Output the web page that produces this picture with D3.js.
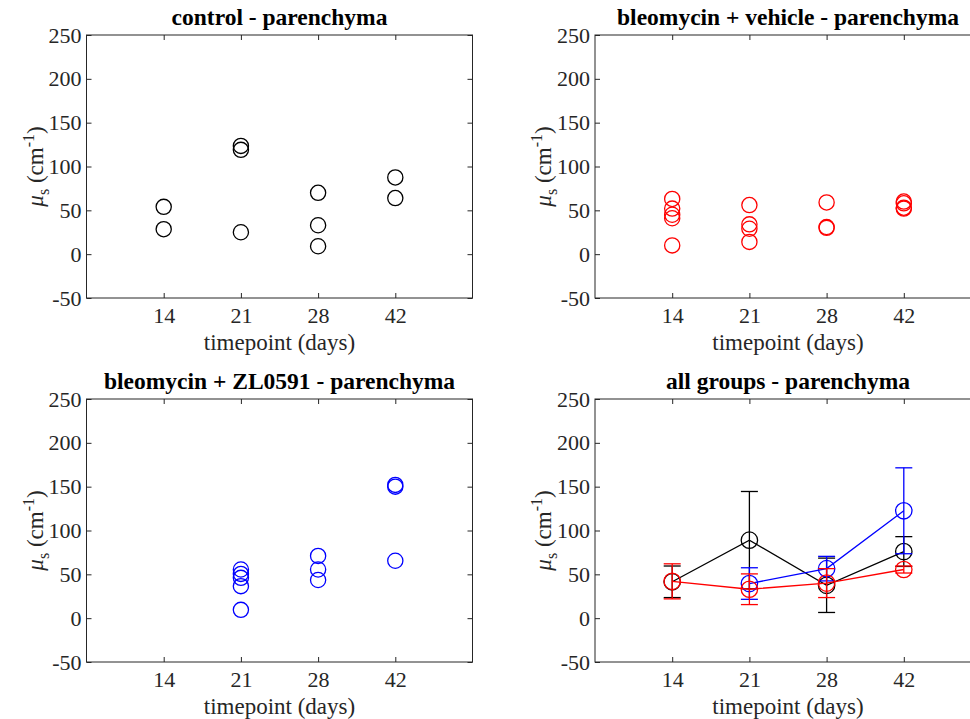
<!DOCTYPE html>
<html>
<head>
<meta charset="utf-8">
<script src="https://cdn.jsdelivr.net/npm/d3@7"></script>
<style>
  html, body { margin: 0; padding: 0; background: #fff; }
  svg { display: block; font-family: "Liberation Serif", "Times New Roman", serif; }
</style>
</head>
<body>
<svg id="chart" width="970" height="719"></svg>
<script>
// Timepoints (days) on the x axis and y tick values
const timepoints = ["14", "21", "28", "42"];
const yTicks = [-50, 0, 50, 100, 150, 200, 250];

// Individual measurements: control group
const controlDays = ["14", "14", "21", "21", "21", "28", "28", "28", "42", "42"];
const controlVals = [54, 28.5, 123.5, 119, 25, 70, 33, 9, 87.5, 64];

// Individual measurements: bleomycin + vehicle
const vehicleDays = ["14", "14", "14", "14", "14", "21", "21", "21", "21", "28", "28", "28", "42", "42", "42", "42"];
const vehicleVals = [63, 52, 45, 41, 10, 56, 34, 29, 14, 59, 31, 30, 60, 58, 52, 53];

// Individual measurements: bleomycin + ZL0591
const zlDays = ["21", "21", "21", "21", "21", "28", "28", "28", "42", "42", "42"];
const zlVals = [55.5, 50.5, 46, 36.5, 9.5, 71, 55.5, 43.5, 152, 150, 65.5];

// Group mean and standard deviation per timepoint (null = no data)
const controlMean = [41.5, 89, 37.5, 76];
const controlSd = [18, 55.5, 31, 17];
const vehicleMean = [42, 33, 40, 55.5];
const vehicleSd = [20, 17.5, 16.5, 4];
const zlMean = [null, 39.5, 56.5, 122.5];
const zlSd = [null, 18, 14, 49];

const svg = d3.select("#chart");
const axisColor = "#262626";
const W = 386, H = 263;
const colLeft = [86.5, 595];
const rowTop = [35, 399];
const R = 7.6;

function makePanel(col, row, title) {
  const left = colLeft[col], top = rowTop[row];
  const x = d3.scalePoint().domain(timepoints).range([left, left + W]).padding(1);
  const y = d3.scaleLinear().domain([-50, 250]).range([top + H, top]);
  const g = svg.append("g");

  // Box
  g.append("rect").attr("x", left).attr("y", top).attr("width", W).attr("height", H)
    .attr("fill", "none").attr("stroke", axisColor).attr("stroke-width", 1);

  // Axes with inward ticks on all four sides
  const axes = [
    [d3.axisBottom(x).tickSizeInner(-5).tickSizeOuter(0).tickPadding(9), `translate(0,${top + H})`],
    [d3.axisTop(x).tickSizeInner(-5).tickSizeOuter(0).tickFormat(""), `translate(0,${top})`],
    [d3.axisLeft(y).tickValues(yTicks).tickSizeInner(-5).tickSizeOuter(0).tickPadding(5).tickFormat(d => String(d)), `translate(${left},0)`],
    [d3.axisRight(y).tickValues(yTicks).tickSizeInner(-5).tickSizeOuter(0).tickFormat(""), `translate(${left + W},0)`]
  ];
  axes.forEach(([ax, tr]) => {
    const a = g.append("g").attr("transform", tr).call(ax);
    a.select(".domain").remove();
    a.selectAll("line").attr("stroke", axisColor);
    a.selectAll("text").attr("fill", axisColor).style("font-family", "Liberation Serif")
      .style("font-size", "22px");
  });

  // Title
  g.append("text").attr("x", left + W / 2).attr("y", top - 10).attr("text-anchor", "middle")
    .style("font-size", "23.5px").style("font-weight", "bold").attr("fill", "#000").text(title);

  // X label
  g.append("text").attr("x", left + W / 2).attr("y", top + H + 52).attr("text-anchor", "middle")
    .style("font-size", "23px").attr("fill", axisColor).text("timepoint (days)");

  // Y label
  const yl = g.append("text")
    .attr("transform", `translate(${left - 44},${top + H / 2}) rotate(-90)`)
    .attr("text-anchor", "middle").style("font-size", "23px").attr("fill", axisColor);
  yl.append("tspan").style("font-style", "italic").text("\u03bc");
  yl.append("tspan").attr("dy", 6).style("font-size", "16px").text("s");
  yl.append("tspan").attr("dy", -6).text(" (cm");
  yl.append("tspan").attr("dy", -9).style("font-size", "16px").text("-1");
  yl.append("tspan").attr("dy", 9).text(")");

  return { g, x, y };
}

function scatter(panel, days, vals, color) {
  panel.g.append("g").selectAll("circle").data(vals).join("circle")
    .attr("cx", (d, i) => panel.x(days[i]))
    .attr("cy", d => panel.y(d))
    .attr("r", R).attr("fill", "none").attr("stroke", color).attr("stroke-width", 1.3);
}

function summary(panel, mean, sd, color) {
  const pts = timepoints.map((t, i) => ({ t, m: mean[i], s: sd[i] })).filter(p => p.m !== null);
  const gg = panel.g.append("g");
  const line = d3.line().x(p => panel.x(p.t)).y(p => panel.y(p.m));
  gg.append("path").attr("d", line(pts)).attr("fill", "none").attr("stroke", color).attr("stroke-width", 1.3);
  const cap = 8.5;
  pts.forEach(p => {
    const cx = panel.x(p.t);
    const y1 = panel.y(p.m + p.s), y0 = panel.y(p.m - p.s);
    gg.append("line").attr("x1", cx).attr("x2", cx).attr("y1", y1).attr("y2", y0)
      .attr("stroke", color).attr("stroke-width", 1.3);
    [y1, y0].forEach(yy => gg.append("line").attr("x1", cx - cap).attr("x2", cx + cap)
      .attr("y1", yy).attr("y2", yy).attr("stroke", color).attr("stroke-width", 1.3));
    gg.append("circle").attr("cx", cx).attr("cy", panel.y(p.m)).attr("r", R + 0.6)
      .attr("fill", "none").attr("stroke", color).attr("stroke-width", 1.3);
  });
}

const p1 = makePanel(0, 0, "control - parenchyma");
scatter(p1, controlDays, controlVals, "#000000");

const p2 = makePanel(1, 0, "bleomycin + vehicle - parenchyma");
scatter(p2, vehicleDays, vehicleVals, "#ff0000");

const p3 = makePanel(0, 1, "bleomycin + ZL0591 - parenchyma");
scatter(p3, zlDays, zlVals, "#0000ff");

const p4 = makePanel(1, 1, "all groups - parenchyma");
summary(p4, controlMean, controlSd, "#000000");
summary(p4, zlMean, zlSd, "#0000ff");
summary(p4, vehicleMean, vehicleSd, "#ff0000");
</script>
</body>
</html>
